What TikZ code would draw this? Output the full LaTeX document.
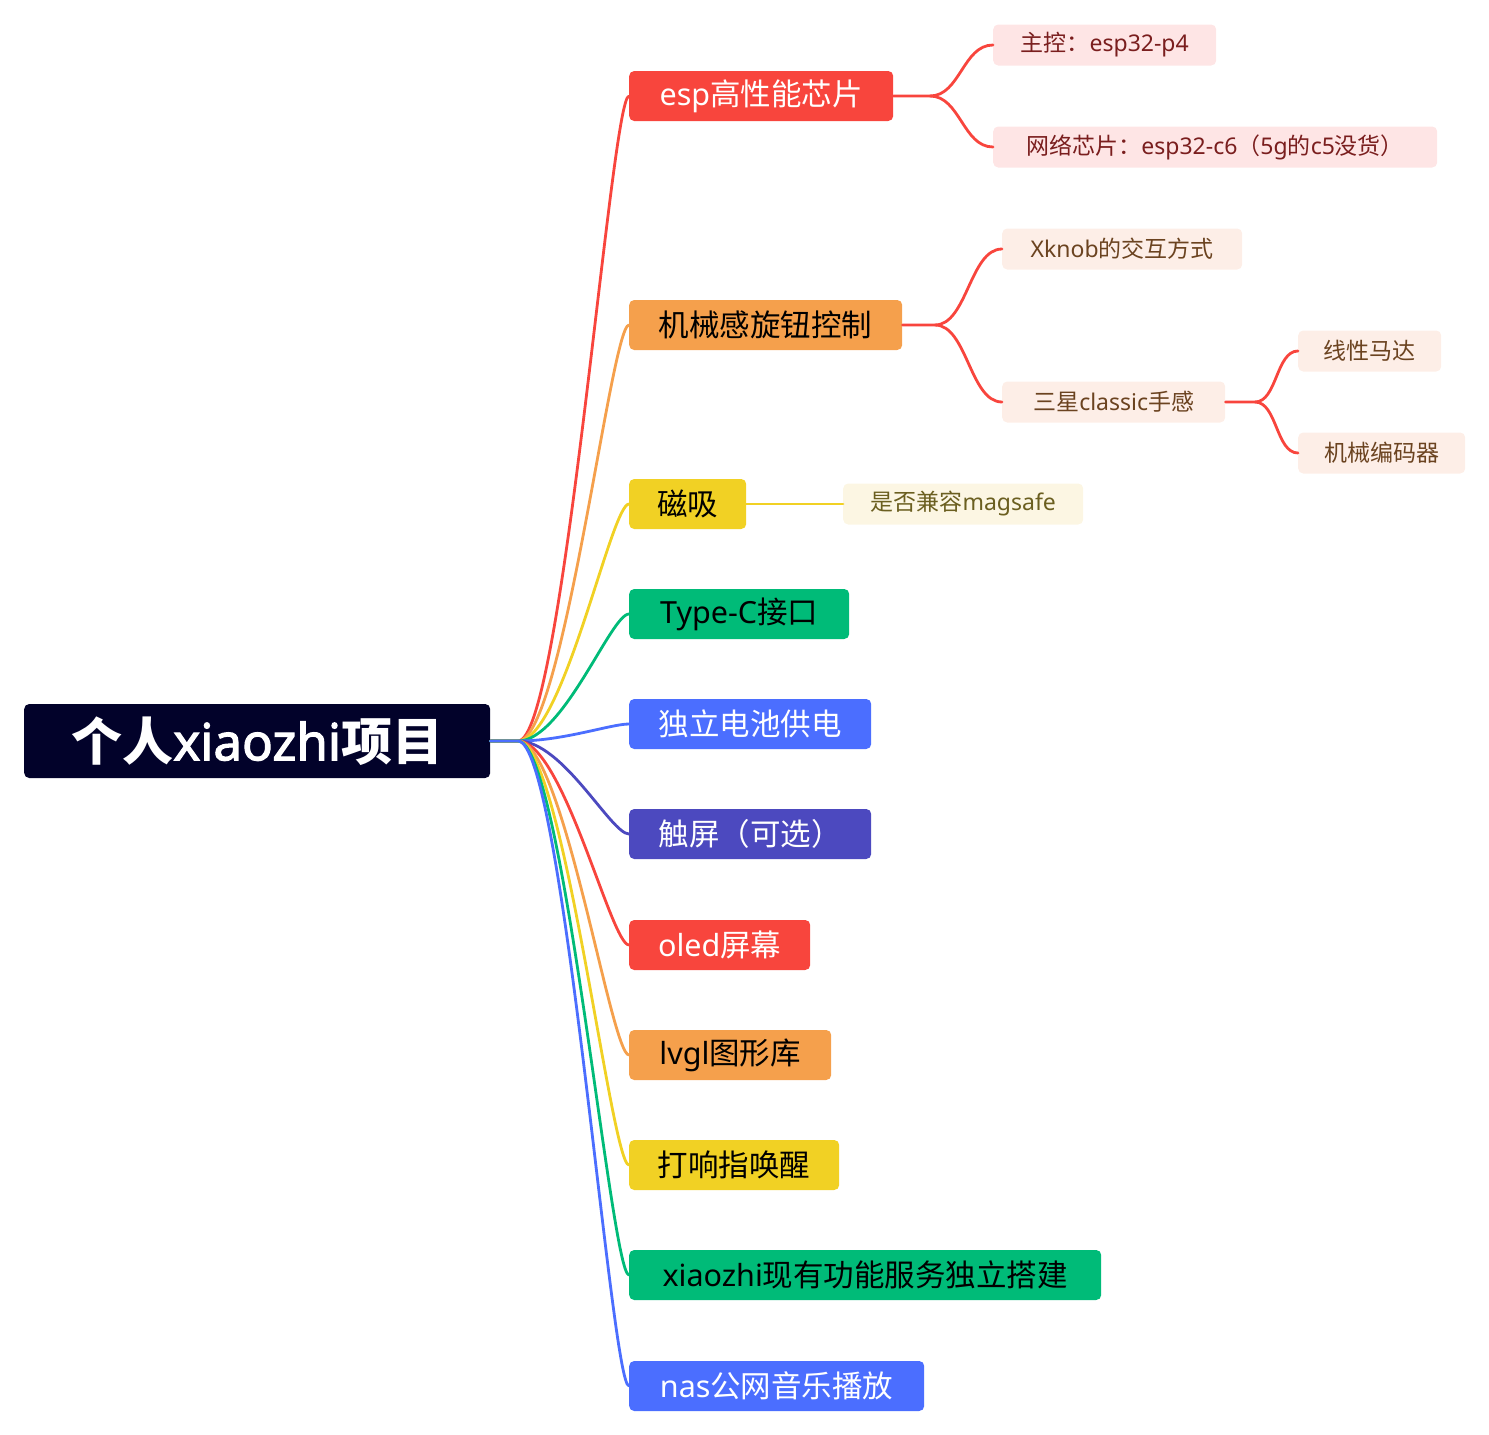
\documentclass[tikz,border=0pt]{standalone}
\usepackage{fontspec}
\setmainfont{Noto Sans CJK SC}
\newfontfamily\lat{Noto Sans}
\newfontfamily\latbold{Noto Sans}[FakeBold=2.2]
\definecolor{cred}{HTML}{F8453D}
\definecolor{corange}{HTML}{F5A04C}
\definecolor{cyellow}{HTML}{F1D124}
\definecolor{cgreen}{HTML}{00BB78}
\definecolor{cblue}{HTML}{4B6EFF}
\definecolor{cindigo}{HTML}{4C49BF}
\definecolor{croot}{HTML}{02022A}
\definecolor{lpink}{HTML}{FEE5E5}
\definecolor{tpink}{HTML}{7A1E1E}
\definecolor{lpeach}{HTML}{FDEEE7}
\definecolor{tpeach}{HTML}{6B4320}
\definecolor{lcream}{HTML}{FCF6E3}
\definecolor{tcream}{HTML}{6B5F20}
\begin{document}
\begin{tikzpicture}[x=1pt,y=-1pt,
  rootbox/.style={fill=croot,text=white,rounded corners=5pt,minimum height=74pt,inner sep=0pt,anchor=west,font=\fontsize{51}{60}\selectfont\bfseries},
  lone/.style={rounded corners=5pt,minimum height=50pt,inner sep=0pt,anchor=west,font=\fontsize{30.5}{36}\selectfont},
  ltwo/.style={rounded corners=5pt,minimum height=41pt,inner sep=0pt,anchor=west,font=\fontsize{23}{28}\selectfont},
  pinkbox/.style={ltwo,fill=lpink,text=tpink},
  peachbox/.style={ltwo,fill=lpeach,text=tpeach},
  creambox/.style={ltwo,fill=lcream,text=tcream},
  conn/.style={line width=2.8pt,line cap=round},
  subconn/.style={line width=2.8pt,line cap=round,draw=cred}
]
\useasboundingbox (0,0) rectangle (1489,1435);
% root
\node[rootbox,minimum width=466pt] (root) at (24,741) {个人{\latbold xiaozhi}项目};
\coordinate (fan) at (518,741);
% level 1
\node[lone,fill=cred,text=white,minimum width=264pt] (esp) at (629,96) {{\lat esp}高性能芯片};
\node[lone,fill=corange,text=black,minimum width=273pt] (jx) at (629,325) {机械感旋钮控制};
\node[lone,fill=cyellow,text=black,minimum width=117pt] (cx) at (629,504) {磁吸};
\node[lone,fill=cgreen,text=black,minimum width=220pt] (tc) at (629,614) {{\lat Type-C}接口};
\node[lone,fill=cblue,text=white,minimum width=242pt] (dl) at (629,724) {独立电池供电};
\node[lone,fill=cindigo,text=white,minimum width=242pt] (cp) at (629,834) {触屏（可选）};
\node[lone,fill=cred,text=white,minimum width=181pt] (ol) at (629,945) {{\lat oled}屏幕};
\node[lone,fill=corange,text=black,minimum width=202pt] (lv) at (629,1055) {{\lat lvgl}图形库};
\node[lone,fill=cyellow,text=black,minimum width=210pt] (dx) at (629,1165) {打响指唤醒};
\node[lone,fill=cgreen,text=black,minimum width=472pt] (xz) at (629,1275) {{\lat xiaozhi}现有功能服务独立搭建};
\node[lone,fill=cblue,text=white,minimum width=295pt] (ns) at (629,1386) {{\lat nas}公网音乐播放};
% level 2
\node[pinkbox,minimum width=223pt] (zk) at (993,45) {主控：{\lat esp32-p4}};
\node[pinkbox,minimum width=444pt] (wl) at (993,147) {网络芯片：{\lat esp32-c6}（{\lat 5g}的{\lat c5}没货）};
\node[peachbox,minimum width=240pt] (xk) at (1002,249) {{\lat Xknob}的交互方式};
\node[peachbox,minimum width=223pt] (sx) at (1002,402) {三星{\lat classic}手感};
\node[peachbox,minimum width=143pt] (xm) at (1298,351) {线性马达};
\node[peachbox,minimum width=167pt] (bm) at (1298,453) {机械编码器};
\node[creambox,minimum width=240pt] (mg) at (843,504) {是否兼容{\lat magsafe}};
% junctions
\coordinate (j1) at (930,96);
\coordinate (j2) at (935,325);
\coordinate (j3) at (1255,402);
% root connectors
\foreach \n/\c in {esp/cred,jx/corange,cx/cyellow,tc/cgreen,dl/cblue,cp/cindigo,ol/cred,lv/corange,dx/cyellow,xz/cgreen,ns/cblue}{
  \draw[conn,draw=\c] (root.east) -- (fan) .. controls +(45,0) and +(-18,0) .. (\n.west);
}
% sub connectors
\draw[subconn] (esp.east) -- (j1) .. controls +(30,0) and +(-30,0) .. (zk.west);
\draw[subconn] (j1) .. controls +(30,0) and +(-30,0) .. (wl.west);
\draw[subconn] (jx.east) -- (j2) .. controls +(32,0) and +(-32,0) .. (xk.west);
\draw[subconn] (j2) .. controls +(32,0) and +(-32,0) .. (sx.west);
\draw[subconn] (sx.east) -- (j3) .. controls +(22,0) and +(-22,0) .. (xm.west);
\draw[subconn] (j3) .. controls +(22,0) and +(-22,0) .. (bm.west);
\draw[conn,draw=cyellow] (cx.east) -- (mg.west);
\end{tikzpicture}
\end{document}
